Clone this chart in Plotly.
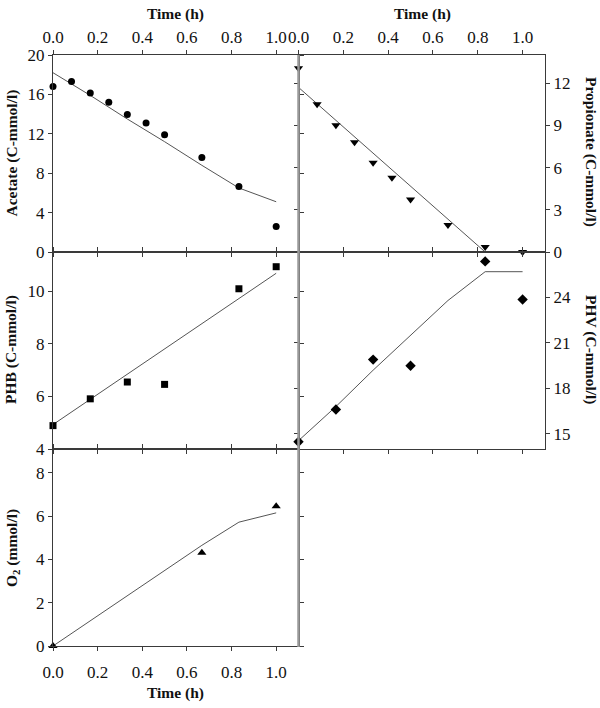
import plotly.graph_objects as go

# ---------------- data ----------------
time_ticks = [0.0, 0.2, 0.4, 0.6, 0.8, 1.0]
time_tick_labels = ["0.0", "0.2", "0.4", "0.6", "0.8", "1.0"]

acetate_ticks = [0, 4, 8, 12, 16, 20]
propionate_ticks = [0, 3, 6, 9, 12]
phb_ticks = [4, 6, 8, 10]
phv_ticks = [15, 18, 21, 24]
o2_ticks = [0, 2, 4, 6, 8]

acetate_t = [0.0, 0.083, 0.167, 0.25, 0.333, 0.417, 0.5, 0.667, 0.833, 1.0]
acetate_obs = [16.8, 17.3, 16.15, 15.2, 13.95, 13.1, 11.9, 9.6, 6.66, 2.6]
acetate_model_t = [0.0, 0.167, 0.333, 0.5, 0.667, 0.833, 1.0]
acetate_model = [18.2, 15.9, 13.5, 11.2, 8.8, 6.5, 5.1]

propionate_t = [0.0, 0.083, 0.167, 0.25, 0.333, 0.417, 0.5, 0.667, 0.833, 1.0]
propionate_obs = [13.06, 10.5, 9.0, 7.8, 6.34, 5.27, 3.73, 1.92, 0.35, 0.0]
propionate_model_t = [0.0, 0.833, 1.0]
propionate_model = [11.7, 0.0, 0.0]

phb_t = [0.0, 0.167, 0.333, 0.5, 0.833, 1.0]
phb_obs = [4.89, 5.91, 6.55, 6.46, 10.1, 10.94]
phb_model_t = [0.0, 1.0]
phb_model = [4.93, 10.69]

phv_t = [0.0, 0.167, 0.333, 0.5, 0.833, 1.0]
phv_obs = [14.48, 16.61, 19.9, 19.49, 26.38, 23.87]
phv_model_t = [0.0, 0.167, 0.333, 0.5, 0.667, 0.833, 1.0]
phv_model = [14.55, 16.8, 19.2, 21.5, 23.8, 25.7, 25.7]

o2_t = [0.0, 0.667, 1.0]
o2_obs = [0.0, 4.31, 6.45]
o2_model_t = [0.0, 0.667, 0.833, 1.0]
o2_model = [0.0, 4.65, 5.72, 6.15]

# ---------------- layout helpers ----------------
W, H = 600, 708
def px_x(p):
    return p / W
def px_y(p):
    return 1 - p / H

XL = [px_x(53), px_x(298.5)]
XR = [px_x(298.5), px_x(545)]
YT = [px_y(252), px_y(55)]
YM = [px_y(449), px_y(252)]
YB = [px_y(646), px_y(449)]

FONT = "Liberation Serif"
AX = "#3a3a3a"
SEP = "#9a9a9a"
LINE = "#555555"
tickfont = dict(family=FONT, size=17, color="#111111")

def xax(domain, anchor, side, labels, standoff=None):
    d = dict(domain=domain, anchor=anchor, side=side, range=[0, 1.1],
             tickmode="array", tickvals=time_ticks, ticktext=time_tick_labels,
             ticks="outside", ticklen=4, tickwidth=1, tickcolor=AX,
             showticklabels=labels, showline=True, mirror="ticks",
             linecolor=AX, linewidth=1, showgrid=False, zeroline=False,
             tickfont=tickfont, automargin=False, fixedrange=True)
    if standoff is not None:
        d["ticklabelstandoff"] = standoff
    return d

def yax(domain, anchor, side, rng, tickvals):
    return dict(domain=domain, anchor=anchor, side=side, range=rng,
                tickmode="array", tickvals=tickvals,
                ticks="outside", ticklen=4, tickwidth=1, tickcolor=AX,
                showticklabels=True, showline=True, mirror="ticks",
                linecolor=AX, linewidth=1, showgrid=False, zeroline=False,
                tickfont=tickfont, automargin=False, fixedrange=True)

fig = go.Figure()

def add_panel(xa, ya, t, obs, mt, model, symbol, size):
    fig.add_trace(go.Scatter(x=mt, y=model, mode="lines", xaxis=xa, yaxis=ya,
                             line=dict(color=LINE, width=1), showlegend=False,
                             cliponaxis=False, hoverinfo="skip"))
    fig.add_trace(go.Scatter(x=t, y=obs, mode="markers", xaxis=xa, yaxis=ya,
                             marker=dict(symbol=symbol, size=size, color="black"),
                             showlegend=False, cliponaxis=False))

add_panel("x", "y", acetate_t, acetate_obs, acetate_model_t, acetate_model, "circle", 7)
add_panel("x2", "y2", propionate_t, propionate_obs, propionate_model_t, propionate_model, "triangle-down", 8)
add_panel("x3", "y3", phb_t, phb_obs, phb_model_t, phb_model, "square", 7)
add_panel("x4", "y4", phv_t, phv_obs, phv_model_t, phv_model, "diamond", 8)
add_panel("x5", "y5", o2_t, o2_obs, o2_model_t, o2_model, "triangle-up", 8)

fig.update_layout(
    width=W, height=H, margin=dict(l=0, r=0, t=0, b=0),
    paper_bgcolor="white", plot_bgcolor="rgba(0,0,0,0)",
    xaxis=xax(XL, "y", "top", True),
    xaxis2=xax(XR, "y2", "top", True),
    xaxis3=xax(XL, "y3", "bottom", False),
    xaxis4=xax(XR, "y4", "bottom", False),
    xaxis5=xax(XL, "y5", "bottom", True, standoff=7),
    yaxis=yax(YT, "x", "left", [0, 20], acetate_ticks),
    yaxis2=yax(YT, "x2", "right", [0, 14], propionate_ticks),
    yaxis3=yax(YM, "x3", "left", [4, 11.5], phb_ticks),
    yaxis4=yax(YM, "x4", "right", [14, 27], phv_ticks),
    yaxis5=yax(YB, "x5", "left", [0, 9.1], o2_ticks),
)

# central separator (grey frame line shared by the left and right panels)
fig.add_shape(type="line", xref="paper", yref="paper",
              x0=px_x(298.5), x1=px_x(298.5), y0=px_y(647), y1=px_y(55),
              line=dict(color=SEP, width=2.5), layer="above")

tfont = dict(family=FONT, size=15.5, color="#111111")
def title(text, x, y, angle=0):
    fig.add_annotation(text="<b>" + text + "</b>", x=px_x(x), y=px_y(y),
                       xref="paper", yref="paper", showarrow=False,
                       textangle=angle, font=tfont, xanchor="center", yanchor="middle")

title("Time (h)", 175.5, 14)
title("Time (h)", 422, 14)
title("Time (h)", 175.5, 693)
title("Acetate (C-mmol/l)", 11, 153.5, -90)
title("Propionate (C-mmol/l)", 591, 152, 90)
title("PHB (C-mmol/l)", 11, 350, -90)
title("PHV (C-mmol/l)", 591, 349, 90)
title("O<sub>2</sub> (mmol/l)", 12, 548, -90)

fig.write_html("out.html", config={"displayModeBar": False},
               post_script="document.body.style.margin='0px';document.body.style.padding='0px';")
